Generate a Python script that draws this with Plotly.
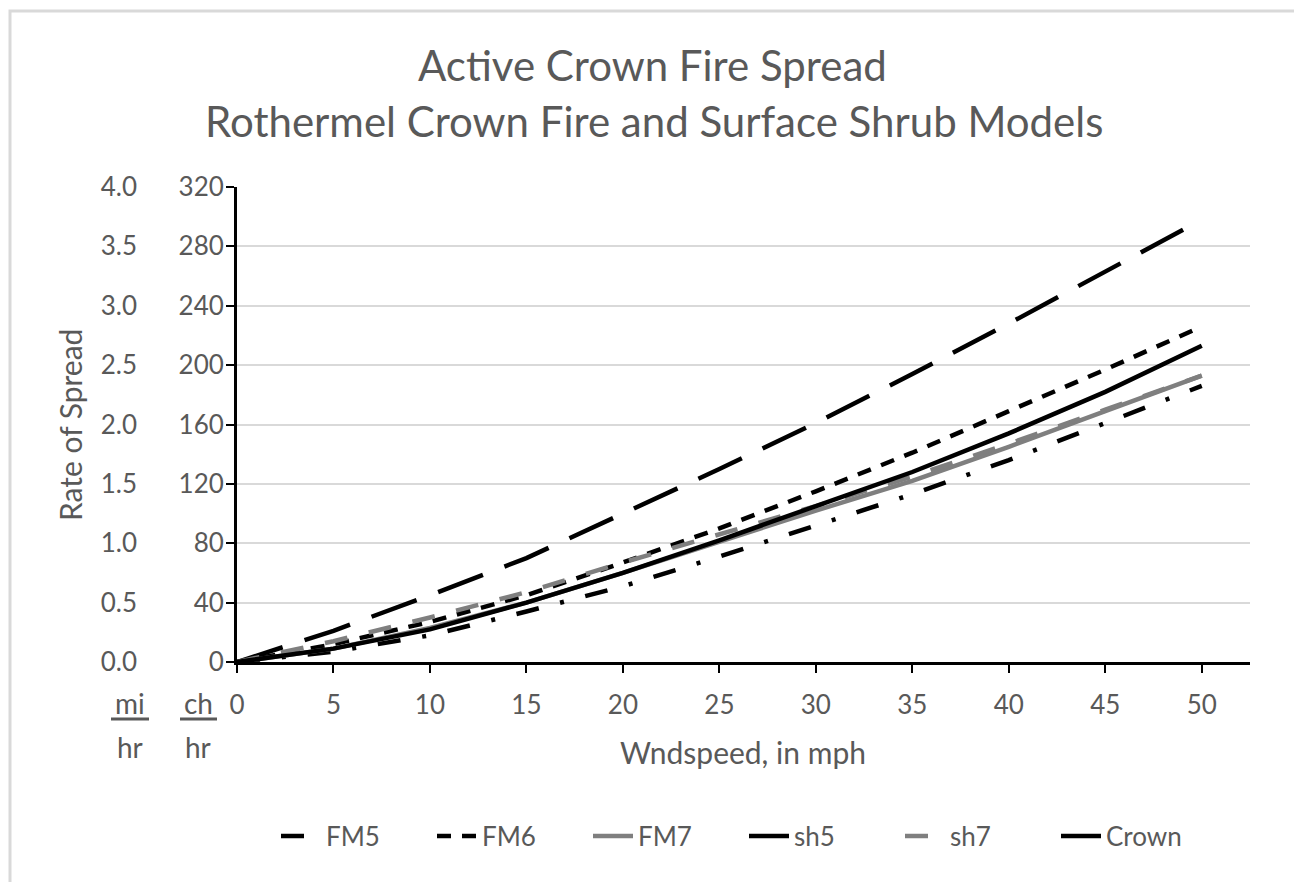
import plotly.graph_objects as go

wind = [0, 5, 10, 15, 20, 25, 30, 35, 40, 45, 50]
fm5 = [0, 7, 18, 34, 51, 71, 92, 113, 136, 161, 186]
fm6 = [0, 12, 27, 45, 67, 90, 115, 141, 169, 197, 226]
fm7 = [0, 9, 23, 40, 60, 81, 102, 122, 145, 169, 193]
sh5 = [0, 21, 45, 70, 100, 130, 161, 194, 228, 263, 298]
sh7 = [0, 14, 30, 47, 67, 86, 105, 125, 147, 170, 193]
crown = [0, 9, 22, 40, 60, 82, 105, 128, 154, 182, 213]

x_ticks = [0, 5, 10, 15, 20, 25, 30, 35, 40, 45, 50]
ch_ticks = [0, 40, 80, 120, 160, 200, 240, 280, 320]
mi_ticks = [0.0, 0.5, 1.0, 1.5, 2.0, 2.5, 3.0, 3.5, 4.0]

series = [
    ("FM5", fm5, "#000000", "23px,22px,4px,22px"),
    ("FM6", fm6, "#000000", "14px,11px"),
    ("FM7", fm7, "#7f7f7f", "solid"),
    ("sh5", sh5, "#000000", "48px,23px"),
    ("sh7", sh7, "#7f7f7f", "23px,22px"),
    ("Crown", crown, "#000000", "solid"),
]

FONT = "Lato, Open Sans, sans-serif"
TXT = "#595959"

fig = go.Figure()
for name, ys, col, dash in series:
    fig.add_trace(go.Scatter(x=wind, y=ys, name=name, mode="lines",
                             line=dict(color=col, width=4.5, dash=dash)))

# companion axis in mi/hr (80 chains per mile)
fig.add_trace(go.Scatter(x=wind, y=[v / 80 for v in crown], yaxis="y2",
                         mode="lines", line=dict(width=0, color="rgba(0,0,0,0)"),
                         showlegend=False, hoverinfo="skip"))

OFF = 8  # page body margin
W, H = 1302 - OFF, 882 - OFF
L, T = 237 - OFF, 187 - OFF
R = W - (1250 - OFF)
B = H - (662 - OFF)
pw, ph = W - L - R, H - T - B


def px(x):
    return (x - OFF - L) / pw


def py(y):
    return (H - B - (y - OFF)) / ph


fig.update_layout(
    width=W, height=H,
    margin=dict(l=L, r=R, t=T, b=B),
    paper_bgcolor="white", plot_bgcolor="white",
    font=dict(family=FONT, color=TXT, size=26),
    xaxis=dict(range=[0, 52.5], tickvals=x_ticks, ticks="outside", ticklen=8,
               tickwidth=2, tickcolor="black", showline=True, linewidth=3,
               linecolor="black", showgrid=False, zeroline=False,
               ticklabelstandoff=10, tickfont=dict(size=26, color=TXT)),
    yaxis=dict(range=[0, 320], tickvals=ch_ticks, ticks="outside", ticklen=8,
               tickwidth=2, tickcolor="black", showline=True, linewidth=3,
               linecolor="black", showgrid=True, gridcolor="#d9d9d9",
               gridwidth=2, zeroline=False, ticklabelstandoff=-3,
               tickfont=dict(size=26, color=TXT)),
    yaxis2=dict(range=[0, 4], tickvals=mi_ticks, tickformat=".1f",
                overlaying="y", anchor="free", position=0, shift=-100,
                side="left", showline=False, ticks="", showgrid=False,
                zeroline=False, tickfont=dict(size=26, color=TXT)),
    legend=dict(orientation="h", xref="paper", x=px(276), xanchor="left",
                y=py(836), yanchor="middle", font=dict(size=26, color=TXT),
                bgcolor="rgba(0,0,0,0)", entrywidth=101, itemwidth=40),
    showlegend=True,
)

ann = [
    dict(text="Active Crown Fire Spread", x=px(652), y=py(65), size=42),
    dict(text="Rothermel Crown Fire and Surface Shrub Models", x=px(654), y=py(121), size=42),
    dict(text="Wndspeed, in mph", x=px(743), y=py(752), size=30),
    dict(text="mi", x=px(130), y=py(703), size=28),
    dict(text="hr", x=px(130), y=py(747), size=28),
    dict(text="ch", x=px(198), y=py(703), size=28),
    dict(text="hr", x=px(198), y=py(747), size=28),
]
for a in ann:
    fig.add_annotation(text=a["text"], x=a["x"], y=a["y"], xref="paper", yref="paper",
                       xanchor="center", yanchor="middle", showarrow=False,
                       font=dict(size=a["size"], color=TXT, family=FONT))
fig.add_annotation(text="Rate of Spread", x=px(70), y=py(425), xref="paper", yref="paper",
                   textangle=-90, xanchor="center", yanchor="middle", showarrow=False,
                   font=dict(size=30, color=TXT, family=FONT))

for x0, x1 in [(111, 149), (180, 217)]:
    fig.add_shape(type="line", xref="paper", yref="paper", x0=px(x0), x1=px(x1),
                  y0=py(719), y1=py(719), line=dict(color=TXT, width=3))

fig.add_shape(type="rect", xref="paper", yref="paper", x0=px(10), x1=px(1299),
              y0=py(900), y1=py(11), line=dict(color="#d9d9d9", width=3),
              fillcolor="rgba(0,0,0,0)", layer="below")

fig.write_html("out.html")
